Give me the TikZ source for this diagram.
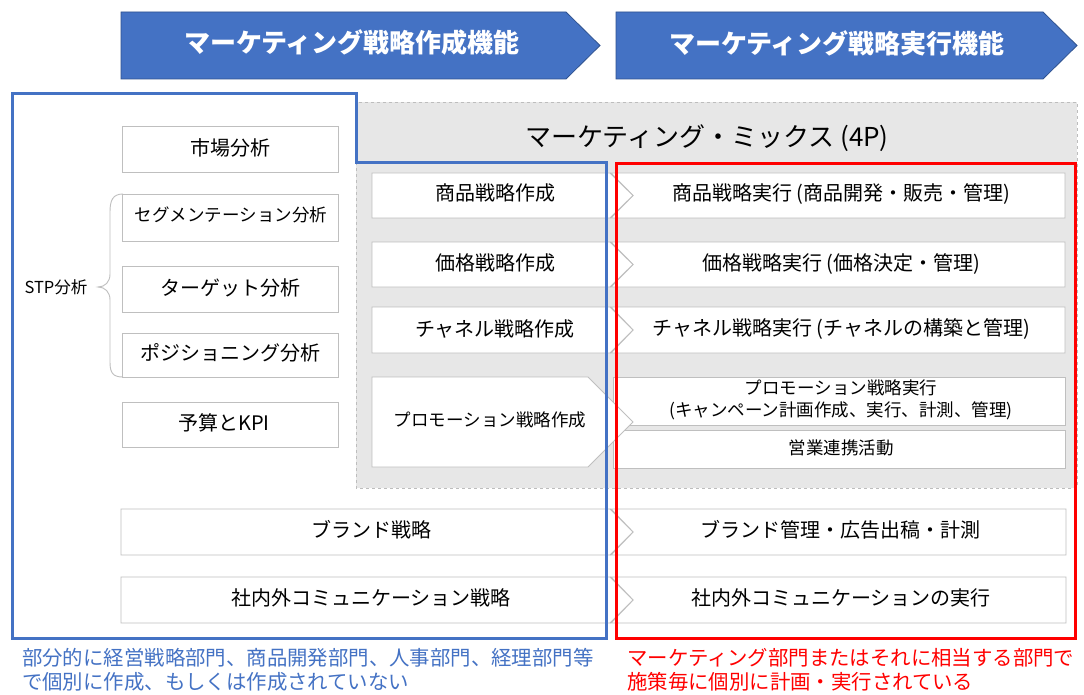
\documentclass[tikz,border=0pt]{standalone}
\usepackage{fontspec}
\setmainfont{Noto Sans CJK JP}
\definecolor{hdr}{HTML}{4472C4}
\definecolor{hdrline}{HTML}{2F528F}
\definecolor{boxline}{HTML}{BFBFBF}
\definecolor{mixfill}{HTML}{E7E7E7}
\definecolor{mixline}{HTML}{BDBDBD}
\definecolor{capblue}{HTML}{4472C4}
\definecolor{redline}{HTML}{FF0000}
\begin{document}
\begin{tikzpicture}[x=1pt,y=-1pt,
  wbox/.style={draw=boxline,fill=white,line width=0.9pt},
  hdrbox/.style={draw=hdrline,fill=hdr,line width=0.8pt},
  hdrtxt/.style={text=white,font=\fontsize{26}{30}\selectfont\bfseries,inner sep=0pt},
  t20/.style={font=\fontsize{20}{24}\selectfont,inner sep=0pt},
  t17/.style={font=\fontsize{17.5}{22}\selectfont,inner sep=0pt,align=center},
  t26/.style={font=\fontsize{26}{30}\selectfont,inner sep=0pt},
  captxt/.style={font=\fontsize{20.4}{24}\selectfont,inner sep=0pt,align=left,anchor=north west}]
\useasboundingbox (0,0) rectangle (1084,695);
\fill[white] (0,0) rectangle (1084,695);

% headers
\path[hdrbox] (121,12) -- (566,12) -- (600,45.5) -- (566,79) -- (121,79) -- cycle;
\path[hdrbox] (616,12) -- (1043,12) -- (1077,45.5) -- (1043,79) -- (616,79) -- cycle;
\node[hdrtxt] (h1) at (352,43) {マーケティング戦略作成機能};
\node[hdrtxt] (h2) at (837,43) {マーケティング戦略実行機能};

% marketing mix area
\draw[mixline,dashed,fill=mixfill,line width=0.8pt] (356,102) rectangle (1077,488);
\node[t26] (mix) at (707,138) {マーケティング・ミックス (4P)};

% left column boxes
\draw[wbox] (122,126) rectangle (338,172);
\node[t20] (m1) at (230,148) {市場分析};
\draw[wbox] (122,194) rectangle (338,241);
\node[t17] (m2) at (231,215) {セグメンテーション分析};
\draw[wbox] (122,266) rectangle (338,312);
\node[t20] (m3) at (230,288) {ターゲット分析};
\draw[wbox] (122,333) rectangle (338,377);
\node[t20] (m4) at (230,353) {ポジショニング分析};
\draw[wbox] (122,402) rectangle (338,447);
\node[t20] (m5) at (224,423) {予算とKPI};

% brace
\draw[boxline,line width=0.9pt] (123,194) .. controls (113,194) and (110,200) .. (110,212) -- (110,274)
  .. controls (110,282) and (105,287) .. (98,287)
  .. controls (105,287) and (110,292) .. (110,300) -- (110,362)
  .. controls (110,373) and (113,377) .. (123,377);
\node[font=\fontsize{16.5}{20}\selectfont,inner sep=0pt] (stp) at (56,287) {STP分析};

% right (execution) boxes
\path[wbox] (611,173) -- (1065,173) -- (1065,218) -- (611,218) -- (633,195.5) -- cycle;
\path[wbox] (611,242) -- (1065,242) -- (1065,287) -- (611,287) -- (633,264.5) -- cycle;
\path[wbox] (611,307) -- (1065,307) -- (1065,353) -- (611,353) -- (633,330) -- cycle;
\draw[wbox] (613,377) rectangle (1065,425);
\draw[wbox] (613,430) rectangle (1065,468);
\path[wbox] (611,509) -- (1066,509) -- (1066,555) -- (611,555) -- (633,532) -- cycle;
\path[wbox] (611,577) -- (1066,577) -- (1066,623) -- (611,623) -- (633,600) -- cycle;

% left (planning) pentagons
\path[wbox] (372,173) -- (610,173) -- (633,195.5) -- (610,218) -- (372,218) -- cycle;
\path[wbox] (372,242) -- (610,242) -- (633,264.5) -- (610,287) -- (372,287) -- cycle;
\path[wbox] (372,307) -- (610,307) -- (633,330) -- (610,353) -- (372,353) -- cycle;
\path[wbox] (372,377) -- (588,377) -- (633,422) -- (588,467) -- (372,467) -- cycle;
\path[wbox] (121,509) -- (610,509) -- (633,532) -- (610,555) -- (121,555) -- cycle;
\path[wbox] (121,577) -- (610,577) -- (633,600) -- (610,623) -- (121,623) -- cycle;

% texts of 4P rows
\node[t20] (p1) at (495,193) {商品戦略作成};
\node[t20] (p2) at (495,263) {価格戦略作成};
\node[t20] (p3) at (495,329) {チャネル戦略作成};
\node[t17] (p4) at (490,420) {プロモーション戦略作成};
\node[t20] (b1) at (371,530) {ブランド戦略};
\node[t20] (b2) at (371,598) {社内外コミュニケーション戦略};

\node[t20] (e1) at (841,194) {商品戦略実行 (商品開発・販売・管理)};
\node[t20] (e2) at (841,264) {価格戦略実行 (価格決定・管理)};
\node[t20] (e3) at (841,329) {チャネル戦略実行 (チャネルの構築と管理)};
\node[t17] (e4) at (841,400) {プロモーション戦略実行\\(キャンペーン計画作成、実行、計測、管理)};
\node[t17] (e5) at (841,448) {営業連携活動};
\node[t20] (f1) at (840,530) {ブランド管理・広告出稿・計測};
\node[t20] (f2) at (841,598) {社内外コミュニケーションの実行};

% department outlines
\draw[hdr,line width=3pt,line join=miter] (12,94) -- (356,94) -- (356,163) -- (606,163) -- (606,638) -- (12,638) -- cycle;
\draw[redline,line width=3pt] (616,164) rectangle (1075,638);

% captions
\node[captxt,text=capblue] (c1) at (22,648) {部分的に経営戦略部門、商品開発部門、人事部門、経理部門等\\で個別に作成、もしくは作成されていない};
\node[captxt,text=redline] (c2) at (627,648) {マーケティング部門またはそれに相当する部門で\\施策毎に個別に計画・実行されている};
\end{tikzpicture}
\end{document}
